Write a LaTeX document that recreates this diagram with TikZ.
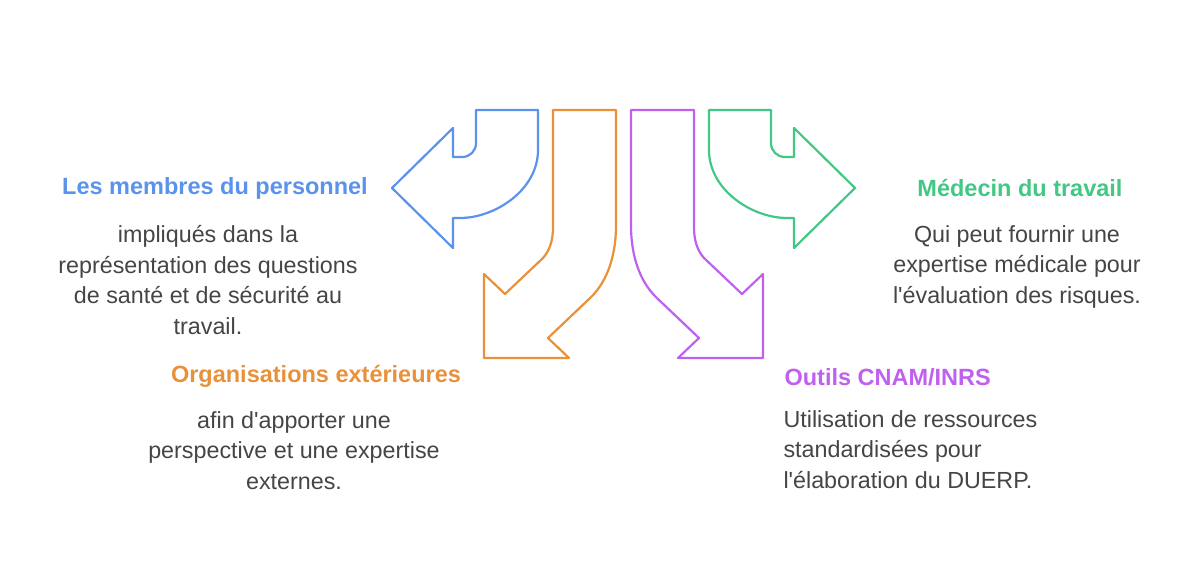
\documentclass[tikz,border=0pt]{standalone}
\usepackage{fontspec}
\setmainfont{Liberation Sans}
\definecolor{cb}{HTML}{5B93EC}
\definecolor{co}{HTML}{E8913A}
\definecolor{cp}{HTML}{C060EE}
\definecolor{cg}{HTML}{42C884}
\definecolor{tx}{HTML}{454545}
\newcommand{\ap}{\XeTeXglyph\XeTeXcharglyph"0027\relax}
\begin{document}
\begin{tikzpicture}[x=1pt,y=-1pt,
  arr/.style={line width=2.2pt,line join=round},
  head/.style={font=\fontsize{23.5}{27}\selectfont\bfseries,anchor=center},
  body/.style={font=\fontsize{23.3}{30.5}\selectfont,text=tx,align=center,anchor=north}]
\useasboundingbox (0,0) rectangle (1200,562);
\draw[arr,cb] (476,110)--(538,110)--(538,150) .. controls (538,190) and (495,218) .. (460,218) -- (453,218) -- (453,248) -- (392,188) -- (453,128) -- (453,157) -- (462,157) .. controls (470,157) and (476,151) .. (476,143) -- cycle;
\draw[arr,co] (553,110)--(616,110)--(616,225) .. controls (616,260) and (605,285) .. (588,300) -- (548,338) -- (569,358) -- (484,358) -- (484,274) -- (505,294) -- (543,258) .. controls (550,250) and (553,240) .. (553,227) -- cycle;
\begin{scope}[xshift=1247pt,xscale=-1]
\draw[arr,cp] (553,110)--(616,110)--(616,225) .. controls (616,260) and (605,285) .. (588,300) -- (548,338) -- (569,358) -- (484,358) -- (484,274) -- (505,294) -- (543,258) .. controls (550,250) and (553,240) .. (553,227) -- cycle;
\draw[arr,cg] (476,110)--(538,110)--(538,150) .. controls (538,190) and (495,218) .. (460,218) -- (453,218) -- (453,248) -- (392,188) -- (453,128) -- (453,157) -- (462,157) .. controls (470,157) and (476,151) .. (476,143) -- cycle;
\end{scope}
\node[head,text=cb] (h1) at (215,188) {Les membres du personnel};
\node[body] (b1) at (208,222) {impliqués dans la\\représentation des questions\\de santé et de sécurité au\\travail.};
\node[head,text=co] (h2) at (316,376) {Organisations extérieures};
\node[body] (b2) at (294,408) {afin d\ap apporter une\\perspective et une expertise\\externes.};
\node[head,text=cg] (h3) at (1020,188) {Médecin du travail};
\node[body] (b3) at (1017,222) {Qui peut fournir une\\expertise médicale pour\\l\ap évaluation des risques.};
\node[head,text=cp,anchor=west] (h4) at (781,377) {Outils CNAM/INRS};
\node[body,align=left,anchor=north west] (b4) at (780,407) {Utilisation de ressources\\standardisées pour\\l\ap élaboration du DUERP.};
\end{tikzpicture}
\end{document}
